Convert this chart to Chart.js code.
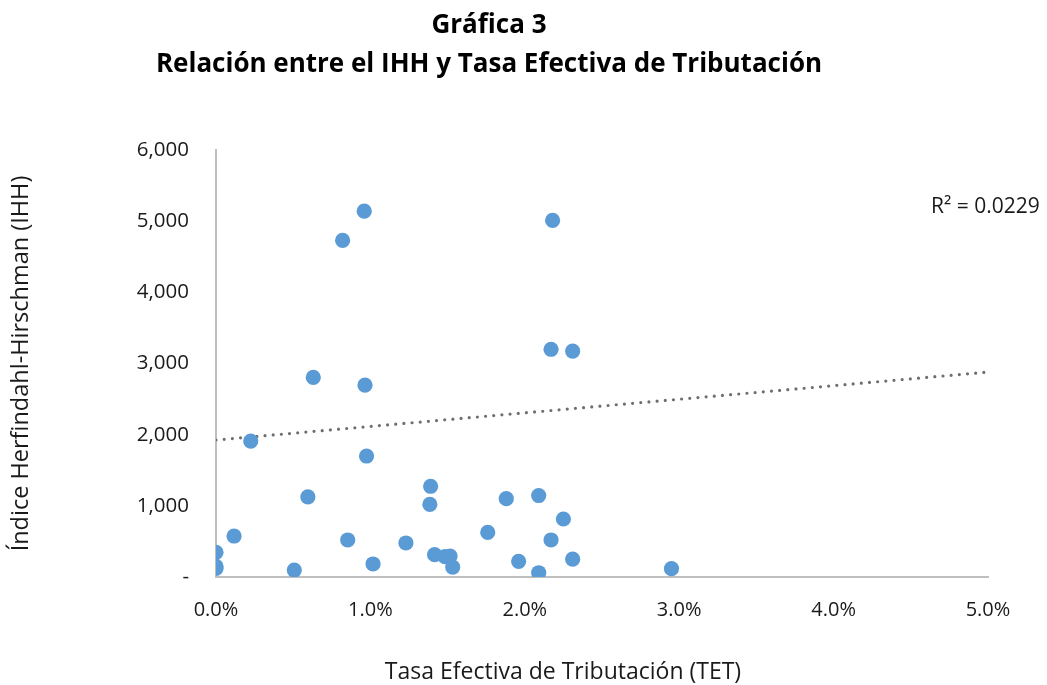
<!DOCTYPE html>
<html>
<head>
<meta charset="utf-8">
<script src="https://cdn.jsdelivr.net/npm/chart.js@4.4.1/dist/chart.umd.min.js"></script>
<style>
  html, body { margin: 0; padding: 0; background: #fff; }
  #wrap { width: 1047px; height: 685px; }
</style>
</head>
<body>
<div id="wrap"><canvas id="chart"></canvas></div>
<script>
// Tasa efectiva de tributacion (%) y el IHH de cada punto
const tetValues = [
  0.96, 0.82, 2.18, 2.17, 2.31, 0.63, 0.965, 0.225, 0.975, 0.595,
  1.39, 1.385, 1.88, 2.09, 2.25, 1.76, 2.17, 1.96, 2.31, 2.09,
  2.95, 0.117, 0.853, 1.23, 0.0, 0.0, 0.0, 0.507, 1.017, 1.416,
  1.483, 1.516, 1.533
];
const ihhValues = [
  5140, 4730, 5010, 3200, 3175, 2805, 2695, 1910, 1700, 1125,
  1275, 1020, 1100, 1145, 815, 627, 520, 220, 250, 60,
  117, 576, 520, 478, 347, 150, 120, 98, 183, 313,
  285, 295, 140
];
// linea de tendencia (lineal)
const trendX = [0, 5];
const trendY = [1925, 2880];
const rSquared = "R\u00b2 = 0.0229";

const xTicks = [0, 1, 2, 3, 4, 5];
const yTicks = [0, 1000, 2000, 3000, 4000, 5000, 6000];

const titleLines = ["Gr\u00e1fica 3", "Relaci\u00f3n entre el IHH y Tasa Efectiva de Tributaci\u00f3n"];
const xTitle = "Tasa Efectiva de Tributaci\u00f3n (TET)";
const yTitle = "\u00cdndice Herfindahl-Hirschman (IHH)";

const FONT = "'Open Sans', 'Noto Sans', sans-serif";
const TEXT_COLOR = "#1a1a1a";

const scatterPoints = tetValues.map((x, i) => ({ x: x, y: ihhValues[i] }));
const trendPoints = trendX.map((x, i) => ({ x: x, y: trendY[i] }));

const textPlugin = {
  id: "textPlugin",
  afterDraw(chart) {
    const ctx = chart.ctx;
    ctx.save();
    ctx.fillStyle = "#000";
    ctx.textAlign = "center";
    ctx.textBaseline = "alphabetic";
    ctx.font = "bold 26px " + FONT;
    ctx.fillText(titleLines[0], 489, 33);
    ctx.fillText(titleLines[1], 489, 72);

    ctx.fillStyle = TEXT_COLOR;
    ctx.font = "23px " + FONT;
    ctx.fillText(xTitle, 563, 679);

    ctx.textAlign = "left";
    ctx.font = "21px " + FONT;
    ctx.fillText(rSquared, 931, 213);
    ctx.restore();
  }
};

new Chart(document.getElementById("chart"), {
  type: "scatter",
  data: {
    datasets: [
      {
        label: "IHH",
        data: scatterPoints,
        backgroundColor: "#5b9bd5",
        borderWidth: 0,
        pointRadius: 7.6,
        pointHoverRadius: 7.6,
      },
      {
        label: "Tendencia",
        type: "line",
        data: trendPoints,
        borderColor: "#6e6e6e",
        borderWidth: 3.2,
        borderDash: [0, 8.2],
        borderCapStyle: "round",
        pointRadius: 0,
        fill: false,
        tension: 0,
      },
    ],
  },
  options: {
    responsive: true,
    maintainAspectRatio: false,
    animation: false,
    layout: {
      padding: { top: 150, right: 59, left: 0, bottom: 0 }
    },
    plugins: {
      legend: { display: false },
      title: { display: false },
      tooltip: { enabled: false },
    },
    scales: {
      x: {
        type: "linear",
        min: 0,
        max: 5,
        afterBuildTicks: (scale) => { scale.ticks = xTicks.map(v => ({ value: v })); },
        afterFit: (scale) => { scale.height = 108; },
        ticks: {
          padding: 21,
          color: TEXT_COLOR,
          font: { family: FONT, size: 20 },
          callback: (v) => v.toFixed(1) + "%",
        },
        grid: { display: false, drawTicks: false },
        border: { color: "#bfbfbf", width: 2 },
      },
      y: {
        type: "linear",
        min: 0,
        max: 6000,
        afterBuildTicks: (scale) => { scale.ticks = yTicks.map(v => ({ value: v })); },
        afterFit: (scale) => { scale.width = 216; },
        ticks: {
          padding: 27,
          color: TEXT_COLOR,
          font: { family: FONT, size: 20.5 },
          callback: (v) => v === 0 ? "-" : v.toLocaleString("en-US"),
        },
        grid: { display: false, drawTicks: false },
        border: { color: "#bfbfbf", width: 2 },
        title: {
          display: true,
          text: yTitle,
          color: TEXT_COLOR,
          font: { family: FONT, size: 23.5 },
          padding: { top: 7, bottom: 0 },
        },
      },
    },
  },
  plugins: [textPlugin],
});
</script>
</body>
</html>
